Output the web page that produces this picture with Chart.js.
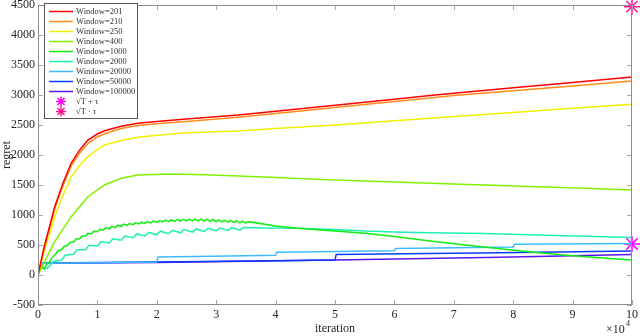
<!DOCTYPE html>
<html>
<head>
<meta charset="utf-8">
<script src="https://cdn.jsdelivr.net/npm/chart.js@4.4.0/dist/chart.umd.min.js"></script>
<style>
  html, body { margin: 0; padding: 0; background: #fff; }
  #wrap { width: 640px; height: 336px; }
</style>
</head>
<body>
<div id="wrap"><canvas id="regretChart" width="640" height="336"></canvas></div>
<script>
// iteration values are in units of 1e4 (axis shows x10^4)
const iter201 = [0, 0.1, 0.28, 0.42, 0.56, 0.7, 0.84, 1, 1.12, 1.4, 1.68, 2, 2.5, 3.37, 4, 5, 6, 6.6, 7, 8, 9, 10];
const regret201 = [0, 450, 1133, 1530, 1867, 2080, 2250, 2350, 2405, 2480, 2528, 2560, 2600, 2667, 2730, 2830, 2930, 2990, 3030, 3120, 3210, 3300];
const regret210 = [0, 430, 1100, 1490, 1820, 2030, 2190, 2300, 2355, 2440, 2490, 2520, 2560, 2630, 2690, 2790, 2890, 2950, 2990, 3070, 3150, 3235];
const regret250 = [0, 380, 967, 1330, 1639, 1830, 1972, 2090, 2167, 2240, 2294, 2330, 2370, 2400, 2440, 2500, 2570, 2611, 2640, 2710, 2780, 2844];

const iter400 = [0, 0.1, 0.28, 0.56, 0.84, 1.12, 1.4, 1.68, 2.24, 2.8, 3.37, 4, 5, 6, 6.6, 7.5, 8.4, 9.2, 10];
const regret400 = [0, 200, 555, 972, 1305, 1500, 1611, 1667, 1683, 1670, 1650, 1625, 1585, 1550, 1528, 1500, 1472, 1445, 1417];

const iter1000 = [0, 0.05, 0.1, 0.14, 0.2, 0.24, 0.3, 0.34, 0.4, 0.44, 0.5, 0.54, 0.6, 0.64, 0.7, 0.74,
  0.8, 0.84, 0.9, 0.94, 1, 1.04, 1.1, 1.14, 1.2, 1.24, 1.3, 1.34, 1.4, 1.44, 1.5, 1.54, 1.6, 1.64,
  1.7, 1.74, 1.8, 1.84, 1.9, 1.94, 2, 2.04, 2.1, 2.14, 2.2, 2.24, 2.3, 2.34, 2.4, 2.44, 2.5, 2.54,
  2.6, 2.64, 2.7, 2.74, 2.8, 2.84, 2.9, 2.94, 3, 3.04, 3.1, 3.14, 3.2, 3.24, 3.3, 3.34, 3.4, 3.44, 3.5, 3.54,
  4, 4.36, 5, 5.5, 6, 6.6, 7.2, 7.7, 8.3, 8.85, 9.4, 10];
const regret1000 = [0, 150, 100, 170, 230, 290, 355, 405, 425, 475, 495, 545, 550, 600, 600, 650,
  650, 695, 685, 730, 720, 760, 750, 790, 770, 810, 790, 830, 808, 848, 828, 858, 840, 870,
  850, 880, 860, 890, 869, 899, 877, 907, 884, 914, 890, 920, 895, 925, 899, 929, 901, 931,
  902, 932, 901, 931, 899, 929, 895, 925, 890, 920, 886, 914, 881, 909, 875, 903, 869, 897, 863, 889,
  815, 778, 735, 694, 640, 567, 500, 444, 385, 333, 290, 250];

const iter2000 = [0, 0.05, 0.15, 0.2, 0.26, 0.4, 0.46, 0.6, 0.66, 0.8, 0.86, 1, 1.06, 1.2, 1.26, 1.4, 1.46,
  1.6, 1.66, 1.8, 1.86, 2, 2.06, 2.2, 2.26, 2.4, 2.46, 2.6, 2.66, 2.8, 2.86, 3, 3.06, 3.2, 3.26, 3.4, 3.46,
  3.8, 4.36, 5, 5.5, 6, 6.6, 7.5, 8.4, 9.2, 10];
const regret2000 = [0, 130, 110, 150, 230, 250, 330, 345, 420, 420, 495, 485, 555, 535, 605, 580, 650,
  620, 685, 650, 710, 670, 730, 688, 745, 703, 758, 716, 768, 727, 777, 736, 784, 743, 789, 748, 792,
  785, 778, 760, 733, 718, 706, 690, 667, 645, 625];

const iter20000 = [0, 0.07, 1, 2, 2.02, 3.23, 4, 4.02, 6, 6.02, 8, 8.02, 10];
const regret20000 = [0, 195, 205, 215, 300, 317, 330, 380, 405, 442, 468, 512, 525];

const iter50000 = [0, 0.07, 2, 5, 5.02, 7.78, 10];
const regret50000 = [0, 200, 215, 250, 340, 372, 400];

const iter100000 = [0, 0.07, 2, 5, 7.78, 10];
const regret100000 = [0, 195, 210, 250, 294, 340];

const boundIter = [10];
const boundPlus = [517];
const boundTimes = [4472];

const yTicks = [-500, 0, 500, 1000, 1500, 2000, 2500, 3000, 3500, 4000, 4500];

const pts = (xs, ys) => xs.map((x, i) => ({ x: x, y: ys[i] }));

function line(label, xs, ys, color) {
  return {
    type: 'line', label: label, data: pts(xs, ys),
    borderColor: color, backgroundColor: color,
    borderWidth: 1.5, pointRadius: 0, tension: 0, fill: false
  };
}
function mark(label, xs, ys, color) {
  return {
    type: 'scatter', label: label, data: pts(xs, ys),
    borderColor: color, backgroundColor: color, pointStyle: 'star',
    pointRadius: 8, borderWidth: 1.5, clip: false, isMarker: true
  };
}

const datasets = [
  line('Window=201', iter201, regret201, '#ff0000'),
  line('Window=210', iter201, regret210, '#ff8c1a'),
  line('Window=250', iter201, regret250, '#f0f000'),
  line('Window=400', iter400, regret400, '#80f000'),
  line('Window=1000', iter1000, regret1000, '#10ee10'),
  line('Window=2000', iter2000, regret2000, '#1ef0b4'),
  line('Window=20000', iter20000, regret20000, '#3cbcff'),
  line('Window=50000', iter50000, regret50000, '#0a3cff'),
  line('Window=100000', iter100000, regret100000, '#5a14f0'),
  mark('\u221AT + \u03C4', boundIter, boundPlus, '#ff00ff'),
  mark('\u221AT \u00B7 \u03C4', boundIter, boundTimes, '#ff1493')
];

function drawStar(ctx, x, y, r) {
  ctx.beginPath();
  ctx.moveTo(x - r, y); ctx.lineTo(x + r, y);
  ctx.moveTo(x, y - r); ctx.lineTo(x, y + r);
  const d = r * 0.7071;
  ctx.moveTo(x - d, y - d); ctx.lineTo(x + d, y + d);
  ctx.moveTo(x - d, y + d); ctx.lineTo(x + d, y - d);
  ctx.stroke();
}

// MATLAB-like box with inner ticks, x10^4 note and legend in the corner
const boxPlugin = {
  id: 'boxPlugin',
  afterDatasetsDraw(chart) {
    const ctx = chart.ctx, a = chart.chartArea;
    const xs = chart.scales.x, ys = chart.scales.y;
    ctx.save();
    ctx.lineWidth = 1;
    ctx.strokeStyle = '#a8a8a8';
    ctx.beginPath();
    xs.ticks.forEach(t => {
      const px = Math.round(xs.getPixelForValue(t.value)) + 0.5;
      ctx.moveTo(px, a.bottom); ctx.lineTo(px, a.bottom - 5);
      ctx.moveTo(px, a.top); ctx.lineTo(px, a.top + 5);
    });
    ys.ticks.forEach(t => {
      const py = Math.round(ys.getPixelForValue(t.value)) + 0.5;
      ctx.moveTo(a.left, py); ctx.lineTo(a.left + 5, py);
      ctx.moveTo(a.right, py); ctx.lineTo(a.right - 5, py);
    });
    ctx.stroke();
    ctx.strokeStyle = '#8c8c8c';
    ctx.strokeRect(Math.round(a.left) + 0.5, Math.round(a.top) + 0.5,
      Math.round(a.width) - 1, Math.round(a.height) - 1);

    // exponent note
    ctx.fillStyle = '#262626';
    ctx.textBaseline = 'alphabetic';
    ctx.textAlign = 'left';
    ctx.font = "12px 'Liberation Serif', serif";
    ctx.fillText('\u00D710', 606, 333);
    ctx.font = "8px 'Liberation Serif', serif";
    ctx.fillText('4', 626, 326);

    // legend
    const lx = 44.5, ly = 3.5, lw = 93, lh = 115;
    ctx.fillStyle = '#ffffff';
    ctx.fillRect(lx, ly, lw, lh);
    ctx.strokeStyle = '#555555';
    ctx.strokeRect(lx, ly, lw, lh);
    ctx.font = "8.5px 'Liberation Serif', serif";
    ctx.textBaseline = 'middle';
    chart.data.datasets.forEach((ds, i) => {
      const ry = 11.5 + 10 * i;
      ctx.strokeStyle = ds.borderColor;
      ctx.lineWidth = 1.5;
      if (ds.isMarker) {
        drawStar(ctx, 61, ry, 5);
      } else {
        ctx.beginPath();
        ctx.moveTo(49, ry); ctx.lineTo(73, ry);
        ctx.stroke();
      }
      ctx.fillStyle = '#333333';
      ctx.fillText(ds.label, 76, ry + 0.5);
    });
    ctx.restore();
  }
};

Chart.defaults.font.family = "'Liberation Serif', serif";
Chart.defaults.font.size = 12;
Chart.defaults.color = '#262626';

new Chart(document.getElementById('regretChart').getContext('2d'), {
  type: 'line',
  data: { datasets: datasets },
  options: {
    responsive: false,
    animation: false,
    events: [],
    layout: { autoPadding: false, padding: { left: 0, right: 8, top: 5, bottom: 0 } },
    plugins: { legend: { display: false }, tooltip: { enabled: false } },
    scales: {
      x: {
        type: 'linear', min: 0, max: 10,
        ticks: { stepSize: 1, padding: 3, maxRotation: 0, callback: v => String(v) },
        grid: { display: false, drawTicks: false }, border: { display: false },
        title: { display: true, text: 'iteration', padding: { top: 0, bottom: 0 } },
        afterFit: s => { s.height = 31; s.paddingRight = 0; s.paddingLeft = 0; }
      },
      y: {
        type: 'linear', min: yTicks[0], max: yTicks[yTicks.length - 1],
        afterBuildTicks: s => { s.ticks = yTicks.map(v => ({ value: v })); },
        ticks: { padding: 3, callback: v => String(v) },
        grid: { display: false, drawTicks: false }, border: { display: false },
        title: { display: true, text: 'regret', padding: { top: 0, bottom: 0 } },
        afterFit: s => { s.width = 38; s.paddingTop = 0; s.paddingBottom = 0; }
      }
    }
  },
  plugins: [boxPlugin]
});
</script>
</body>
</html>
